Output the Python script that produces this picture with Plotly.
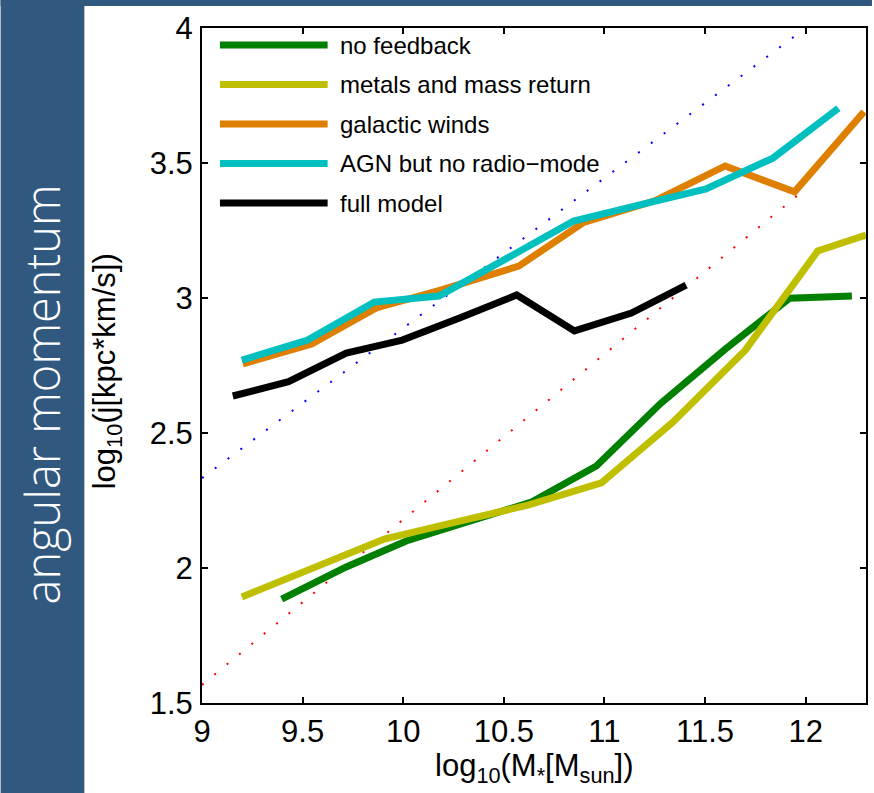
import plotly.graph_objects as go

# ---------------- data ----------------
series_names = ["no feedback", "metals and mass return", "galactic winds",
                "AGN but no radio\u2212mode", "full model"]
series_colors = ["#008000", "#BFBF00", "#DE7F00", "#00BFBF", "#000000"]

nofb_x = [9.396, 9.717, 10.015, 10.33, 10.64, 10.96, 11.28, 11.60, 11.92, 12.23]
nofb_y = [1.885, 2.004, 2.100, 2.172, 2.245, 2.378, 2.610, 2.810, 2.999, 3.007]

metals_x = [9.198, 9.55, 9.906, 10.26, 10.62, 10.985, 11.34, 11.70, 12.06, 12.30]
metals_y = [1.893, 2.000, 2.107, 2.170, 2.233, 2.315, 2.540, 2.807, 3.174, 3.233]

winds_x = [9.203, 9.545, 9.866, 10.19, 10.574, 10.897, 11.25, 11.60, 11.945, 12.29]
winds_y = [2.756, 2.830, 2.963, 3.030, 3.118, 3.280, 3.360, 3.489, 3.393, 3.690]

agn_x = [9.198, 9.525, 9.856, 10.178, 10.51, 10.847, 11.176, 11.505, 11.837, 12.163]
agn_y = [2.770, 2.844, 2.985, 3.007, 3.145, 3.285, 3.345, 3.404, 3.518, 3.703]

full_x = [9.153, 9.43, 9.717, 9.995, 10.28, 10.564, 10.851, 11.134, 11.406]
full_y = [2.637, 2.690, 2.796, 2.844, 2.926, 3.011, 2.878, 2.944, 3.048]

blue_ref_x = [9.0, 12.0]
blue_ref_y = [2.333, 4.0]
red_ref_x = [9.0, 11.96]
red_ref_y = [1.567, 3.38]

x_ticks = [9, 9.5, 10, 10.5, 11, 11.5, 12]
x_ticklabels = ["9", "9.5", "10", "10.5", "11", "11.5", "12"]
y_ticks = [1.5, 2, 2.5, 3, 3.5, 4]
y_ticklabels = ["1.5", "2", "2.5", "3", "3.5", "4"]

# ---------------- layout geometry ----------------
W, H = 874, 793
ML, MR, MT, MB = 202, 6, 28, 90
PW, PH = W - ML - MR, H - MT - MB
BAND = "#31597F"
FONT = "Liberation Sans, Arial, Helvetica, sans-serif"


def px(x):
    return (x - ML) / PW


def py(y):
    return (H - MB - y) / PH


fig = go.Figure()

# reference dotted lines
fig.add_trace(go.Scatter(x=blue_ref_x, y=blue_ref_y, mode="lines",
                         line=dict(color="#0000FF", width=2, dash="2px,14px"),
                         showlegend=False, hoverinfo="skip"))
fig.add_trace(go.Scatter(x=red_ref_x, y=red_ref_y, mode="lines",
                         line=dict(color="#FF0000", width=2, dash="2px,14px"),
                         showlegend=False, hoverinfo="skip"))

data = [(nofb_x, nofb_y), (metals_x, metals_y), (winds_x, winds_y),
        (agn_x, agn_y), (full_x, full_y)]
for (xs, ys), name, col in zip(data, series_names, series_colors):
    fig.add_trace(go.Scatter(x=xs, y=ys, mode="lines", name=name,
                             line=dict(color=col, width=7),
                             showlegend=False))

shapes = []
annotations = []

# background bands
shapes.append(dict(type="rect", xref="paper", yref="paper",
                   x0=px(0), x1=px(84), y0=py(H), y1=py(0),
                   fillcolor=BAND, line=dict(width=0), layer="above"))
shapes.append(dict(type="rect", xref="paper", yref="paper",
                   x0=px(0), x1=px(W), y0=py(6), y1=py(0),
                   fillcolor=BAND, line=dict(width=0), layer="above"))

annotations.append(dict(text="angular momentum", xref="paper", yref="paper",
                        x=px(42), y=py(394), textangle=-90, showarrow=False,
                        xanchor="center", yanchor="middle",
                        font=dict(family="Open Sans, Noto Sans, sans-serif",
                                  size=47, color="white", weight=300)))

# custom legend
for i, (name, col) in enumerate(zip(series_names, series_colors)):
    yy = 45 + 39.5 * i
    shapes.append(dict(type="line", xref="paper", yref="paper",
                       x0=px(220), x1=px(328), y0=py(yy), y1=py(yy),
                       line=dict(color=col, width=7), layer="above"))
    annotations.append(dict(text=name, xref="paper", yref="paper",
                            x=px(338), y=py(yy), showarrow=False,
                            xanchor="left", yanchor="middle",
                            font=dict(family=FONT, size=24, color="black")))

# axis titles
annotations.append(dict(text="log<sub>10</sub>(M<sub>*</sub>[M<sub>sun</sub>])",
                        xref="paper", yref="paper", x=px(535), y=py(768),
                        showarrow=False, xanchor="center", yanchor="middle",
                        font=dict(family=FONT, size=31, color="black")))
annotations.append(dict(text="log<sub>10</sub>(j[kpc*km/s])",
                        xref="paper", yref="paper", x=px(107), y=py(371),
                        textangle=-90, showarrow=False,
                        xanchor="center", yanchor="middle",
                        font=dict(family=FONT, size=31, color="black")))

axis_common = dict(showgrid=False, zeroline=False, showline=True,
                   linecolor="black", linewidth=2, mirror="ticks",
                   ticks="inside", ticklen=6, tickwidth=1.5, tickcolor="black",
                   tickfont=dict(family=FONT, size=31, color="black"))

fig.update_layout(
    width=W, height=H,
    margin=dict(l=ML, r=MR, t=MT, b=MB, pad=0),
    paper_bgcolor="white", plot_bgcolor="white",
    xaxis=dict(range=[9, 12.3], tickvals=x_ticks, ticktext=x_ticklabels,
               ticklabelstandoff=0, **axis_common),
    yaxis=dict(range=[1.5, 4], tickvals=y_ticks, ticktext=y_ticklabels,
               ticklabelstandoff=1, **axis_common),
    shapes=shapes, annotations=annotations, showlegend=False,
)

fig.write_html("out.html")
